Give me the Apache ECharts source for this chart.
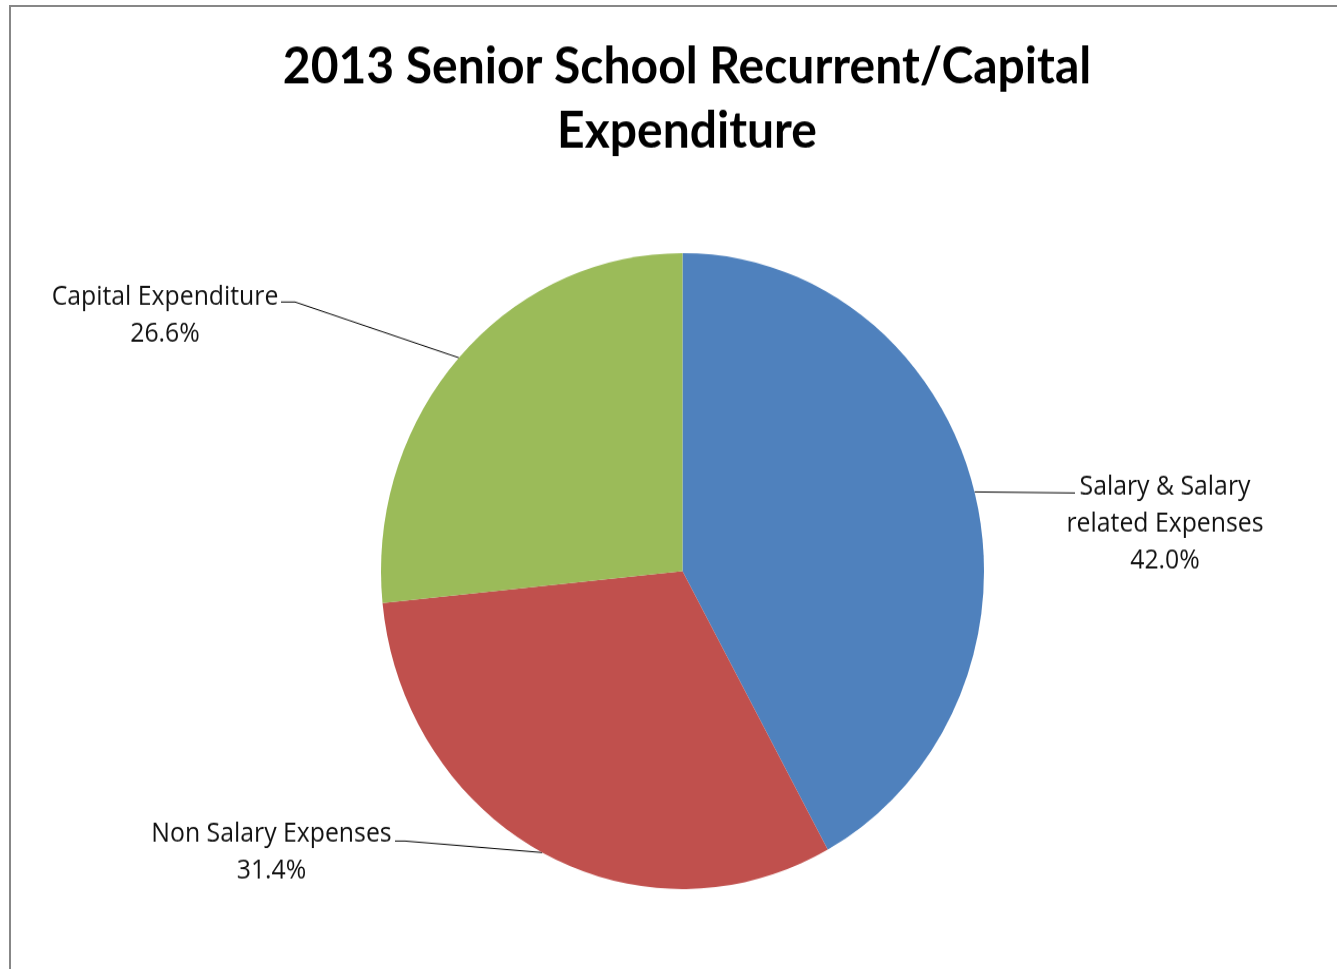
<!DOCTYPE html>
<html><head><meta charset="utf-8">
<script src="https://cdn.jsdelivr.net/npm/echarts@6/dist/echarts.min.js"></script>
<style>
html,body{margin:0;padding:0;background:#fff;overflow:hidden;width:1337px;height:969px;}
#frame{position:absolute;left:9px;top:5px;width:1340px;height:975px;border-left:2px solid #878787;border-top:2px solid #878787;box-sizing:border-box;}
#chart{position:absolute;left:0;top:0;width:1337px;height:919px;transform:scaleY(1.0547);transform-origin:0 0;}
</style></head>
<body><div id="frame"></div><div id="chart"></div>
<script>
const titleLines = ['2013 Senior School Recurrent/Capital', 'Expenditure'];
const categories = ['Salary & Salary\nrelated Expenses', 'Non Salary Expenses', 'Capital Expenditure'];
const values = [42.0, 31.4, 26.6];
const colors = ['#4F81BD', '#C0504D', '#9BBB59'];

// label placement (layout only, in chart pixels before vertical scaling)
const labelPlacement = [
  {x: 1165, top: 445, line: [[1075, 467.4]]},
  {x: 271.5, top: 774, line: [[405, 797.4], [395, 797.4]]},
  {x: 165, top: 264.8, line: [[295, 286.3], [281, 286.3]]}
];

const chart = echarts.init(document.getElementById('chart'), null, {renderer: 'canvas'});
chart.setOption({
  animation: false,
  backgroundColor: 'transparent',
  title: {
    text: titleLines.join('\n'),
    left: 682,
    top: 28,
    textAlign: 'center',
    textStyle: {fontFamily: 'Lato', fontWeight: 'bold', fontSize: 48, lineHeight: 61, color: '#000'}
  },
  series: [{
    type: 'pie',
    center: [682.5, 541.4],
    radius: 301.5,
    startAngle: 90,
    clockwise: true,
    avoidLabelOverlap: false,
    data: categories.map((c, i) => ({name: c, value: values[i], itemStyle: {color: colors[i]}})),
    itemStyle: {borderWidth: 0},
    label: {
      show: true,
      position: 'outside',
      formatter: p => p.name + '\n' + p.value.toFixed(1) + '%',
      fontFamily: 'Open Sans',
      fontSize: 24.8,
      lineHeight: 34.6,
      color: '#111'
    },
    labelLine: {show: true, length: 20, length2: 20, lineStyle: {color: '#000', width: 1}},
    labelLayout: function (params) {
      const p = labelPlacement[params.dataIndex];
      const start = params.labelLinePoints[0];
      return {x: p.x, y: p.top, align: 'center', verticalAlign: 'top', labelLinePoints: [start].concat(p.line)};
    },
    emphasis: {disabled: true}
  }]
});
</script>
</body></html>
